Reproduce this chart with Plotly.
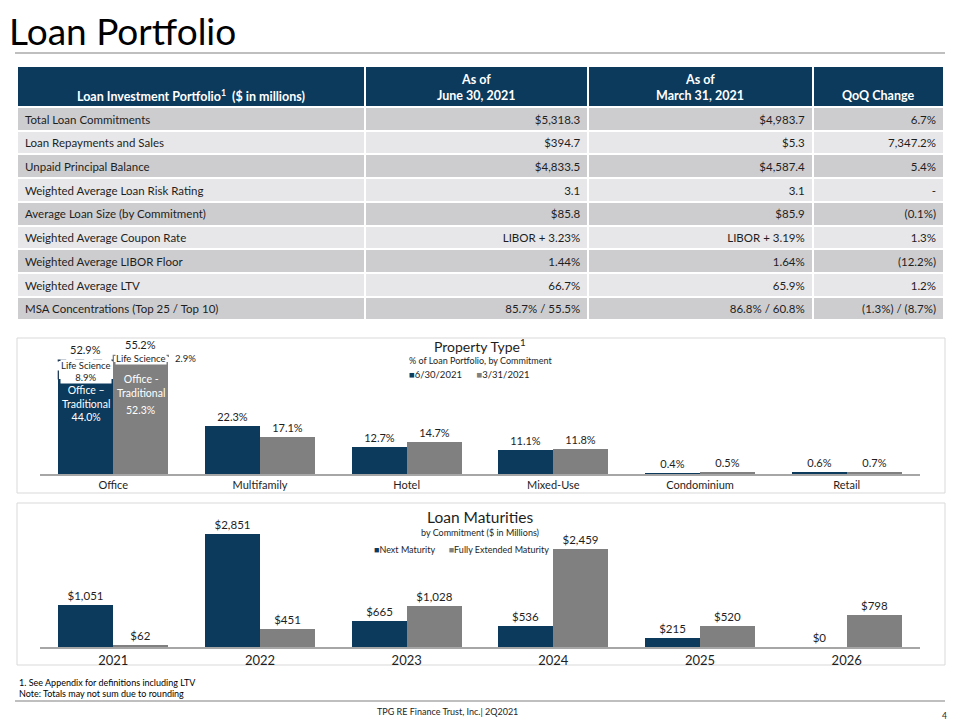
import plotly.graph_objects as go

# ---------------- data ----------------
header_top = ["", "As of", "As of", ""]
header_bottom = ["Loan Investment Portfolio<sup>1</sup>  ($ in millions)",
                 "June 30, 2021", "March 31, 2021", "QoQ Change"]
metrics = ["Total Loan Commitments", "Loan Repayments and Sales", "Unpaid Principal Balance",
           "Weighted Average Loan Risk Rating", "Average Loan Size (by Commitment)",
           "Weighted Average Coupon Rate", "Weighted Average LIBOR Floor",
           "Weighted Average LTV", "MSA Concentrations (Top 25 / Top 10)"]
as_of_jun = ["$5,318.3", "$394.7", "$4,833.5", "3.1", "$85.8", "LIBOR + 3.23%",
             "1.44%", "66.7%", "85.7% / 55.5%"]
as_of_mar = ["$4,983.7", "$5.3", "$4,587.4", "3.1", "$85.9", "LIBOR + 3.19%",
             "1.64%", "65.9%", "86.8% / 60.8%"]
qoq_change = ["6.7%", "7,347.2%", "5.4%", "-", "(0.1%)", "1.3%", "(12.2%)",
              "1.2%", "(1.3%) / (8.7%)"]

property_types = ["Office", "Multifamily", "Hotel", "Mixed-Use", "Condominium", "Retail"]
pt_jun = [44.0, 22.3, 12.7, 11.1, 0.4, 0.6]      # 6/30/2021 (Office = traditional only)
pt_mar = [52.3, 17.1, 14.7, 11.8, 0.5, 0.7]      # 3/31/2021 (Office = traditional only)
life_science_jun = 8.9
life_science_mar = 2.9
pt_series = ["6/30/2021", "3/31/2021"]

maturity_years = ["2021", "2022", "2023", "2024", "2025", "2026"]
next_maturity = [1051, 2851, 665, 536, 215, 0]
fully_extended = [62, 451, 1028, 2459, 520, 798]
mat_series = ["Next Maturity", "Fully Extended Maturity"]

# ---------------- style ----------------
NAVY = "#0b3a5c"
GRAY = "#808080"
TXT = "#1e1e1e"
FONT = "Lato"
W, H = 960, 720


def px(x):
    return x / W


def py(y):
    return 1 - y / H


fig = go.Figure()

# ---------------- table ----------------
TX0, TX1 = 17, 944
colw = [347, 223, 224, 131]
n = len(metrics)
row_fill = ["#cdcdd0" if i % 2 == 0 else "#e7e7e9" for i in range(n)]
fig.add_trace(go.Table(
    domain=dict(x=[px(TX0), px(TX1)], y=[py(330), py(66)]),
    columnwidth=colw,
    header=dict(values=[""] * 4, fill_color=NAVY,
                line=dict(color="white", width=2), height=41),
    cells=dict(values=[metrics, as_of_jun, as_of_mar, qoq_change],
               fill_color=[row_fill] * 4,
               line=dict(color="white", width=2),
               align=["left", "right", "right", "right"],
               font=dict(family=FONT, size=11.5, color=TXT),
               height=23.7),
))

ann = []
# header texts (centred per column)
scale = (TX1 - TX0) / sum(colw)
edges = [TX0]
for w in colw:
    edges.append(edges[-1] + w * scale)
hfont = dict(family=FONT, size=12.5, color="white", weight="bold")
for i in range(4):
    cx = (edges[i] + edges[i + 1]) / 2
    if header_top[i]:
        ann.append(dict(x=px(cx), y=py(79), xref="paper", yref="paper",
                        xanchor="center", yanchor="middle",
                        text=header_top[i], showarrow=False, font=hfont))
    ann.append(dict(x=px(cx), y=py(96), xref="paper", yref="paper",
                    xanchor="center", yanchor="middle",
                    text=header_bottom[i], showarrow=False, font=hfont))

# ---------------- property type chart ----------------
xs = list(range(len(property_types)))
BW = 0.375
pt_jun_text = ["" if c == "Office" else f"{v:.1f}%" for c, v in zip(property_types, pt_jun)]
pt_mar_text = ["" if c == "Office" else f"{v:.1f}%" for c, v in zip(property_types, pt_mar)]
lab = dict(family=FONT, size=11, color=TXT)

fig.add_trace(go.Bar(x=xs, y=pt_jun, offset=-BW, width=BW, name=pt_series[0],
                     marker=dict(color=NAVY, line=dict(width=0)),
                     text=pt_jun_text, textposition="outside", cliponaxis=False,
                     textfont=lab, showlegend=False, xaxis="x", yaxis="y"))
fig.add_trace(go.Bar(x=xs, y=pt_mar, offset=0, width=BW, name=pt_series[1],
                     marker=dict(color=GRAY, line=dict(width=0)),
                     text=pt_mar_text, textposition="outside", cliponaxis=False,
                     textfont=lab, showlegend=False, xaxis="x", yaxis="y"))

o = property_types.index("Office")
jun_top = pt_jun[o] + life_science_jun
mar_top = pt_mar[o] + life_science_mar
# dashed Life Science boxes
fig.add_trace(go.Scatter(x=[o - BW, o - BW, o, o],
                         y=[pt_jun[o], jun_top, jun_top, max(pt_jun[o], pt_mar[o])],
                         mode="lines", line=dict(color="#1f3b57", width=1.3, dash="dash"),
                         showlegend=False, hoverinfo="skip", xaxis="x", yaxis="y", cliponaxis=False))
fig.add_trace(go.Scatter(x=[o, o, o + BW, o + BW],
                         y=[pt_mar[o], mar_top, mar_top, pt_mar[o]],
                         mode="lines", line=dict(color="#7f7f7f", width=1.3, dash="dash"),
                         showlegend=False, hoverinfo="skip", xaxis="x", yaxis="y", cliponaxis=False))

# ---------------- maturities chart ----------------
ys = list(range(len(maturity_years)))
fig.add_trace(go.Bar(x=ys, y=next_maturity, offset=-BW, width=BW, name=mat_series[0],
                     marker=dict(color=NAVY, line=dict(width=0)),
                     texttemplate="$%{y:,.0f}", textposition="outside", cliponaxis=False,
                     textfont=dict(family=FONT, size=11.5, color=TXT), showlegend=False,
                     xaxis="x2", yaxis="y2"))
fig.add_trace(go.Bar(x=ys, y=fully_extended, offset=0, width=BW, name=mat_series[1],
                     marker=dict(color=GRAY, line=dict(width=0)),
                     texttemplate="$%{y:,.0f}", textposition="outside", cliponaxis=False,
                     textfont=dict(family=FONT, size=11.5, color=TXT), showlegend=False,
                     xaxis="x2", yaxis="y2"))

# ---------------- annotations ----------------
small = dict(family=FONT, size=9.5, color=TXT)
ann.append(dict(x=o - BW / 2, y=jun_top, xref="x", yref="y", xanchor="center", yanchor="bottom",
                yshift=2, text=f"{jun_top:.1f}%", showarrow=False, font=lab))
ann.append(dict(x=o + BW / 2, y=mar_top, xref="x", yref="y", xanchor="center", yanchor="bottom",
                yshift=2, text=f"{mar_top:.1f}%", showarrow=False, font=lab))
ann.append(dict(x=o - BW / 2, y=pt_jun[o] + life_science_jun / 2, xref="x", yref="y",
                xanchor="center", yanchor="middle", yshift=-2,
                text=f"Life Science<br>{life_science_jun:.1f}%", showarrow=False, font=small,
                bgcolor="white", borderpad=0))
ann.append(dict(x=o + BW / 2, y=pt_mar[o] + life_science_mar / 2, xref="x", yref="y",
                xanchor="center", yanchor="middle",
                text="Life Science", showarrow=False, font=small, bgcolor="white", borderpad=0))
ann.append(dict(x=o + BW, y=pt_mar[o] + life_science_mar / 2, xref="x", yref="y",
                xanchor="left", yanchor="middle", xshift=5,
                text=f"{life_science_mar:.1f}%", showarrow=False, font=small))
ann.append(dict(x=o - BW / 2, y=pt_jun[o], xref="x", yref="y", xanchor="center", yanchor="top",
                yshift=-3, text=f"Office –<br>Traditional<br>{pt_jun[o]:.1f}%", showarrow=False,
                font=dict(family=FONT, size=10.5, color="white")))
ann.append(dict(x=o + BW / 2, y=pt_mar[o], xref="x", yref="y", xanchor="center", yanchor="top",
                yshift=-9, text="Office -<br>Traditional", showarrow=False,
                font=dict(family=FONT, size=10.5, color="white")))
ann.append(dict(x=o + BW / 2, y=pt_mar[o], xref="x", yref="y", xanchor="center", yanchor="top",
                yshift=-40, text=f"{pt_mar[o]:.1f}%", showarrow=False,
                font=dict(family=FONT, size=10.5, color="white")))


def legend_text(names, colors):
    parts = [f"<span style='color:{c}'>■</span>{nm}" for nm, c in zip(names, colors)]
    return "&nbsp;&nbsp;&nbsp;&nbsp;&nbsp;&nbsp;".join(parts)


def ptext(x, y, text, size, xanchor="center", color=TXT):
    return dict(x=px(x), y=py(y), xref="paper", yref="paper", xanchor=xanchor, yanchor="middle",
                text=text, showarrow=False, font=dict(family=FONT, size=size, color=color))


# chart titles and legends
ann.append(ptext(480, 345, "Property Type<sup>1</sup>", 14))
ann.append(ptext(480, 360, "% of Loan Portfolio, by Commitment", 9))
ann.append(ptext(469, 374, legend_text(pt_series, [NAVY, GRAY]), 9.5))
ann.append(ptext(480, 517, "Loan Maturities", 15.5))
ann.append(ptext(480, 532, "by Commitment ($ in Millions)", 9))
ann.append(ptext(461, 549, legend_text(mat_series, [NAVY, GRAY]), 9))

# slide title & footer
ann.append(ptext(7, 31, "Loan Portfolio", 37, xanchor="left", color="black"))
ann.append(ptext(17, 682, "1. See Appendix for definitions including LTV", 9, xanchor="left", color="black"))
ann.append(ptext(17, 693, "Note: Totals may not sum due to rounding", 9, xanchor="left", color="black"))
ann.append(ptext(447, 711, "TPG RE Finance Trust, Inc.| 2Q2021", 9))
ann.append(ptext(944, 716, "4", 8.5))

shapes = [
    dict(type="line", xref="paper", yref="paper", x0=px(15), x1=px(945), y0=py(53), y1=py(53),
         line=dict(color="#bfbfbf", width=2)),
    dict(type="line", xref="paper", yref="paper", x0=px(15), x1=px(945), y0=py(701), y1=py(701),
         line=dict(color="#bfbfbf", width=2)),
    dict(type="rect", xref="paper", yref="paper", x0=px(17), x1=px(945), y0=py(493), y1=py(338),
         line=dict(color="#d9d9d9", width=1), layer="below"),
    dict(type="rect", xref="paper", yref="paper", x0=px(17), x1=px(945), y0=py(665), y1=py(503),
         line=dict(color="#d9d9d9", width=1), layer="below"),
]

axis_common = dict(range=[-0.5, 5.5], showgrid=False, zeroline=False, showline=True,
                   linecolor="#a6a6a6", linewidth=2, ticks="", fixedrange=True)

fig.update_layout(
    width=W, height=H, margin=dict(l=0, r=0, t=0, b=0),
    paper_bgcolor="white", plot_bgcolor="rgba(0,0,0,0)",
    barmode="overlay", bargap=0, showlegend=False,
    font=dict(family=FONT, color=TXT),
    xaxis=dict(domain=[px(40), px(920)], anchor="y", tickvals=xs, ticktext=property_types,
               tickfont=dict(family=FONT, size=11, color=TXT), **axis_common),
    yaxis=dict(domain=[py(474), py(345)], range=[0, 60], visible=False, fixedrange=True),
    xaxis2=dict(domain=[px(40), px(920)], anchor="y2", tickvals=ys, ticktext=maturity_years,
                tickfont=dict(family=FONT, size=13, color=TXT), **axis_common),
    yaxis2=dict(domain=[py(647), py(520)], range=[0, 3200], visible=False, fixedrange=True),
    annotations=ann,
    shapes=shapes,
)

fig.write_html("out.html", config=dict(displayModeBar=False),
               post_script="document.body.style.margin='0';document.body.style.overflow='hidden';")
